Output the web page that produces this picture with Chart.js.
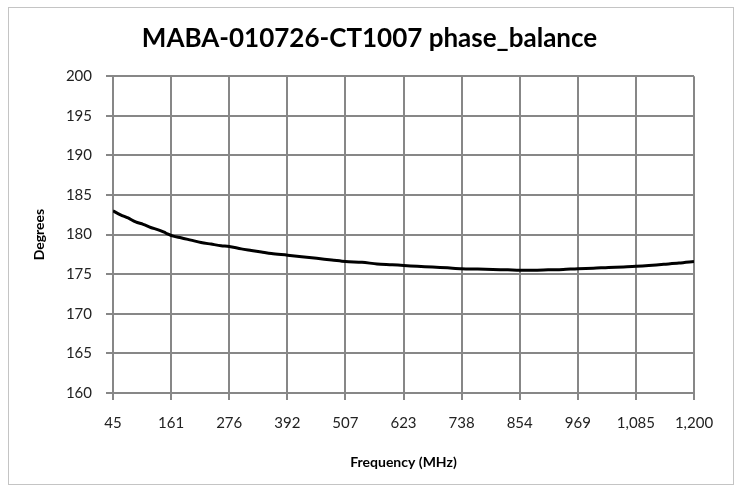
<!DOCTYPE html>
<html>
<head>
<meta charset="utf-8">
<script src="https://cdn.jsdelivr.net/npm/chart.js@4/dist/chart.umd.min.js"></script>
<style>
  html, body { margin: 0; padding: 0; background: #fff; }
  #wrap { position: relative; width: 739px; height: 485px; }
  #frame { position: absolute; left: 8px; top: 7px; width: 726px; height: 478px; border: 1px solid #c4c4c4; box-sizing: border-box; }
  canvas { position: absolute; left: 0; top: 0; }
</style>
</head>
<body>
<div id="wrap">
  <div id="frame"></div>
  <canvas id="c" width="739" height="485"></canvas>
</div>
<script>
const chartTitle = 'MABA-010726-CT1007 phase_balance';
const xAxisTitle = 'Frequency (MHz)';
const yAxisTitle = 'Degrees';

const frequencies = [45, 60, 75, 90, 105, 120, 135, 150, 165, 180, 200, 220, 240, 260, 276, 300, 320, 340, 360, 392, 420, 450, 480, 507, 540, 570, 600, 623, 650, 680, 710, 738, 770, 800, 830, 854, 880, 910, 940, 969, 1000, 1030, 1060, 1085, 1110, 1140, 1170, 1200];
const phaseBalance = [183.0, 182.5, 182.1, 181.6, 181.3, 180.9, 180.6, 180.2, 179.8, 179.6, 179.3, 179.0, 178.8, 178.6, 178.5, 178.2, 178.0, 177.8, 177.6, 177.4, 177.2, 177.0, 176.8, 176.6, 176.5, 176.3, 176.2, 176.1, 176.0, 175.9, 175.8, 175.7, 175.65, 175.6, 175.55, 175.5, 175.5, 175.55, 175.6, 175.7, 175.75, 175.85, 175.9, 176.0, 176.1, 176.25, 176.4, 176.6];

const xTickValues = [45, 160.5, 276, 391.5, 507, 622.5, 738, 853.5, 969, 1084.5, 1200];
const xTickLabels = ['45', '161', '276', '392', '507', '623', '738', '854', '969', '1,085', '1,200'];
const yMin = 160, yMax = 200, yStep = 5;

const points = frequencies.map((f, i) => ({ x: f, y: phaseBalance[i] }));
const gridColor = '#878787';
const textColor = '#222';

new Chart(document.getElementById('c'), {
  type: 'line',
  data: {
    datasets: [{
      data: points,
      borderColor: '#000',
      borderWidth: 3,
      pointRadius: 0,
      tension: 0.3,
      fill: false
    }]
  },
  options: {
    responsive: false,
    animation: false,
    layout: { padding: { top: 14, right: 0, bottom: 0, left: 0 } },
    plugins: {
      legend: { display: false },
      tooltip: { enabled: false },
      title: {
        display: true,
        text: chartTitle,
        color: '#000',
        font: { family: 'Lato', size: 26, weight: 'bold' },
        padding: { top: 9, bottom: 22 }
      }
    },
    scales: {
      x: {
        type: 'linear',
        min: 45,
        max: 1200,
        afterBuildTicks: (axis) => { axis.ticks = xTickValues.map(v => ({ value: v })); },
        afterFit: (axis) => { axis.height = 92; },
        ticks: {
          callback: (v, i) => xTickLabels[i],
          color: textColor,
          font: { family: 'Lato', size: 15 },
          padding: 14,
          maxRotation: 0,
          autoSkip: false
        },
        grid: { color: gridColor, lineWidth: 2, tickLength: 7 },
        border: { color: gridColor, width: 2 },
        title: {
          display: true,
          text: xAxisTitle,
          color: '#000',
          font: { family: 'Lato', size: 14, weight: 'bold' },
          padding: { top: 0, bottom: 14 }
        }
      },
      y: {
        min: yMin,
        max: yMax,
        afterFit: (axis) => { axis.width = 113; },
        ticks: {
          stepSize: yStep,
          color: textColor,
          font: { family: 'Lato', size: 15 },
          padding: 14
        },
        grid: { color: gridColor, lineWidth: 2, tickLength: 7 },
        border: { color: gridColor, width: 2 },
        title: {
          display: true,
          text: yAxisTitle,
          color: '#000',
          font: { family: 'Lato', size: 14, weight: 'bold' },
          padding: { top: 31, bottom: 0 }
        }
      },
      yRight: {
        position: 'right',
        min: yMin,
        max: yMax,
        afterFit: (axis) => { axis.width = 45; },
        ticks: { display: false },
        grid: { display: false },
        border: { display: false }
      }
    }
  }
});
</script>
</body>
</html>
